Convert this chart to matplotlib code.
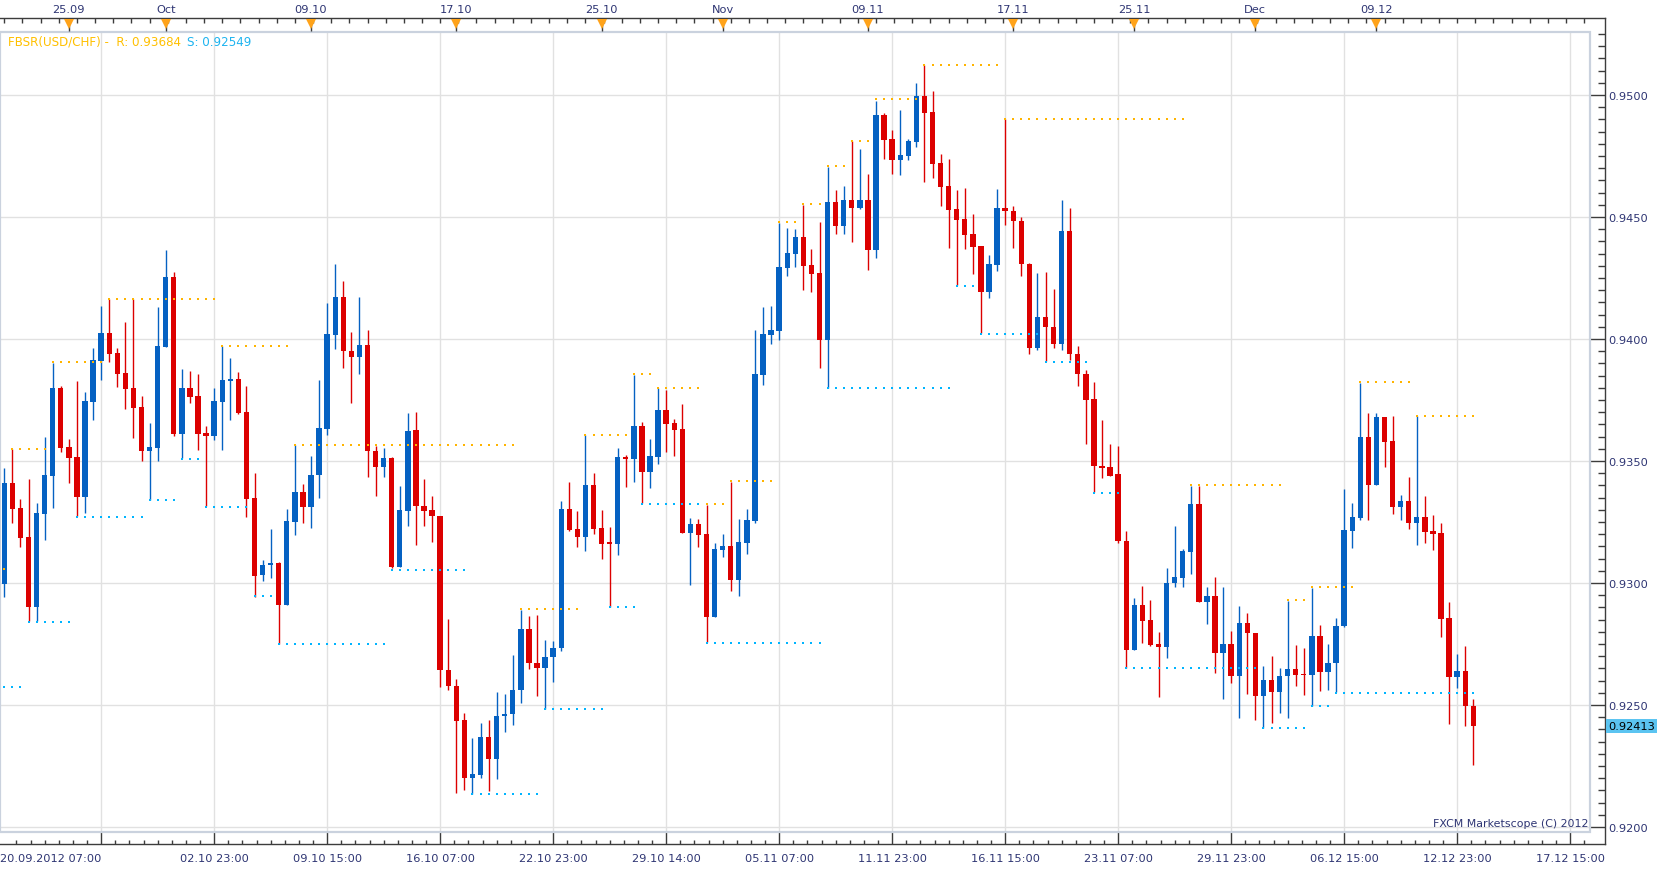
import numpy as np
import matplotlib
matplotlib.use("Agg")
import matplotlib.pyplot as plt
from matplotlib.ticker import FixedLocator, MultipleLocator, FormatStrFormatter
from matplotlib.transforms import blended_transform_factory
from matplotlib.patches import Rectangle

# ---------------- data (8h candles, USD/CHF) ----------------
opens = [0.92997, 0.93410, 0.93307, 0.93189, 0.92903, 0.93284, 0.93440, 0.93799, 0.93557, 0.93516,
         0.93354, 0.93742, 0.93910, 0.94025, 0.93943, 0.93861, 0.93799, 0.93721, 0.93541, 0.93553,
         0.93967, 0.94254, 0.93611, 0.93799, 0.93766, 0.93615, 0.93602, 0.93742, 0.93828, 0.93836,
         0.93701, 0.93348, 0.93032, 0.93073, 0.93083, 0.92908, 0.93252, 0.93371, 0.93310, 0.93441,
         0.93633, 0.94018, 0.94174, 0.93952, 0.93928, 0.93976, 0.93541, 0.93474, 0.93513, 0.93064,
         0.93297, 0.93625, 0.93317, 0.93300, 0.93276, 0.92645, 0.92579, 0.92439, 0.92199, 0.92212,
         0.92370, 0.92277, 0.92453, 0.92462, 0.92560, 0.92813, 0.92674, 0.92650, 0.92695, 0.92732,
         0.93305, 0.93223, 0.93190, 0.93403, 0.93227, 0.93167, 0.93158, 0.93518, 0.93510, 0.93645,
         0.93456, 0.93518, 0.93710, 0.93657, 0.93632, 0.93206, 0.93243, 0.93202, 0.92862, 0.93137,
         0.93153, 0.93014, 0.93165, 0.93255, 0.93853, 0.94018, 0.94034, 0.94289, 0.94347, 0.94417,
         0.94302, 0.94269, 0.93995, 0.94561, 0.94462, 0.94569, 0.94536, 0.94569, 0.94364, 0.94919,
         0.94820, 0.94734, 0.94750, 0.94808, 0.94997, 0.94931, 0.94722, 0.94627, 0.94532, 0.94491,
         0.94429, 0.94380, 0.94191, 0.94302, 0.94536, 0.94523, 0.94482, 0.94306, 0.93965, 0.94090,
         0.94049, 0.93981, 0.94443, 0.93938, 0.93857, 0.93754, 0.93481, 0.93476, 0.93445, 0.93173,
         0.92727, 0.92911, 0.92849, 0.92751, 0.92738, 0.92998, 0.93022, 0.93125, 0.93324, 0.92923,
         0.92947, 0.92715, 0.92751, 0.92617, 0.92836, 0.92796, 0.92536, 0.92604, 0.92552, 0.92618,
         0.92649, 0.92626, 0.92622, 0.92784, 0.92634, 0.92671, 0.92822, 0.93214, 0.93268, 0.93600,
         0.93403, 0.93682, 0.93583, 0.93313, 0.93337, 0.93247, 0.93272, 0.93214, 0.93206, 0.92858,
         0.92616, 0.92641, 0.92497]
highs = [0.93471, 0.93549, 0.93344, 0.93426, 0.93328, 0.93598, 0.93902, 0.93807, 0.93590, 0.93828,
         0.93783, 0.93963, 0.94135, 0.94164, 0.93963, 0.94070, 0.94164, 0.93766, 0.93656, 0.94131,
         0.94365, 0.94275, 0.93877, 0.93869, 0.93857, 0.93643, 0.93799, 0.93971, 0.93922, 0.93865,
         0.93807, 0.93451, 0.93095, 0.93222, 0.93085, 0.93304, 0.93564, 0.93406, 0.93522, 0.93833,
         0.94148, 0.94308, 0.94238, 0.94030, 0.94174, 0.94038, 0.93563, 0.93554, 0.93516, 0.93399,
         0.93698, 0.93702, 0.93427, 0.93358, 0.93276, 0.92854, 0.92606, 0.92469, 0.92363, 0.92428,
         0.92439, 0.92555, 0.92547, 0.92706, 0.92888, 0.92866, 0.92870, 0.92768, 0.92764, 0.93337,
         0.93415, 0.93296, 0.93605, 0.93452, 0.93301, 0.93231, 0.93555, 0.93526, 0.93854, 0.93661,
         0.93592, 0.93801, 0.93792, 0.93673, 0.93735, 0.93268, 0.93264, 0.93321, 0.93165, 0.93202,
         0.93415, 0.93264, 0.93305, 0.94036, 0.94133, 0.94137, 0.94475, 0.94454, 0.94450, 0.94549,
         0.94368, 0.94479, 0.94705, 0.94610, 0.94627, 0.94812, 0.94779, 0.94676, 0.94977, 0.94927,
         0.94857, 0.94940, 0.94820, 0.95051, 0.95121, 0.95018, 0.94759, 0.94738, 0.94610, 0.94619,
         0.94512, 0.94380, 0.94343, 0.94615, 0.94900, 0.94546, 0.94498, 0.94312, 0.94271, 0.94275,
         0.94204, 0.94570, 0.94538, 0.93971, 0.93873, 0.93824, 0.93669, 0.93571, 0.93563, 0.93213,
         0.92939, 0.92988, 0.92931, 0.92800, 0.93062, 0.93235, 0.93138, 0.93396, 0.93396, 0.92985,
         0.93026, 0.92982, 0.92804, 0.92907, 0.92879, 0.92796, 0.92661, 0.92702, 0.92653, 0.92928,
         0.92747, 0.92735, 0.92981, 0.92829, 0.92751, 0.92858, 0.93387, 0.93329, 0.93821, 0.93698,
         0.93698, 0.93682, 0.93686, 0.93362, 0.93436, 0.93684, 0.93358, 0.93280, 0.93247, 0.92924,
         0.92710, 0.92743, 0.92526]
lows = [0.92944, 0.93247, 0.93149, 0.92846, 0.92846, 0.93178, 0.93309, 0.93538, 0.93411, 0.93273,
        0.93287, 0.93668, 0.93832, 0.93906, 0.93803, 0.93713, 0.93594, 0.93500, 0.93340, 0.93500,
        0.93967, 0.93602, 0.93512, 0.93738, 0.93545, 0.93316, 0.93586, 0.93545, 0.93668, 0.93693,
        0.93272, 0.92944, 0.93007, 0.93022, 0.92751, 0.92908, 0.93196, 0.93246, 0.93224, 0.93347,
        0.93605, 0.93958, 0.93880, 0.93736, 0.93855, 0.93433, 0.93355, 0.93433, 0.93062, 0.93064,
        0.93232, 0.93155, 0.93232, 0.93169, 0.92575, 0.92561, 0.92141, 0.92151, 0.92137, 0.92201,
        0.92146, 0.92195, 0.92388, 0.92417, 0.92510, 0.92646, 0.92536, 0.92485, 0.92593, 0.92720,
        0.93214, 0.93149, 0.93133, 0.93202, 0.93100, 0.92900, 0.93116, 0.93395, 0.93415, 0.93329,
        0.93391, 0.93489, 0.93538, 0.93522, 0.93206, 0.92993, 0.93149, 0.92760, 0.92862, 0.93108,
        0.92969, 0.92948, 0.93120, 0.93247, 0.93812, 0.93981, 0.93997, 0.94257, 0.94294, 0.94199,
        0.94191, 0.93883, 0.93801, 0.94429, 0.94429, 0.94396, 0.94532, 0.94281, 0.94331, 0.94738,
        0.94676, 0.94672, 0.94734, 0.94787, 0.94643, 0.94660, 0.94545, 0.94372, 0.94220, 0.94368,
        0.94265, 0.94023, 0.94166, 0.94277, 0.94469, 0.94371, 0.94257, 0.93937, 0.93953, 0.93909,
        0.93963, 0.93955, 0.93914, 0.93809, 0.93568, 0.93375, 0.93429, 0.93437, 0.93163, 0.92653,
        0.92727, 0.92753, 0.92743, 0.92531, 0.92691, 0.92982, 0.92985, 0.93035, 0.92923, 0.92833,
        0.92631, 0.92523, 0.92591, 0.92448, 0.92546, 0.92437, 0.92404, 0.92425, 0.92466, 0.92445,
        0.92577, 0.92540, 0.92495, 0.92556, 0.92560, 0.92552, 0.92818, 0.93145, 0.93260, 0.93260,
        0.93403, 0.93477, 0.93284, 0.93260, 0.93223, 0.93157, 0.93165, 0.93137, 0.92780, 0.92422,
        0.92571, 0.92413, 0.92253]
closes = [0.93410, 0.93305, 0.93186, 0.92903, 0.93287, 0.93443, 0.93799, 0.93555, 0.93514, 0.93354,
          0.93746, 0.93914, 0.94025, 0.93939, 0.93857, 0.93795, 0.93717, 0.93541, 0.93557, 0.93971,
          0.94254, 0.93611, 0.93799, 0.93762, 0.93611, 0.93602, 0.93746, 0.93832, 0.93836, 0.93697,
          0.93346, 0.93030, 0.93074, 0.93083, 0.92908, 0.93255, 0.93371, 0.93310, 0.93444, 0.93636,
          0.94021, 0.94174, 0.93949, 0.93928, 0.93976, 0.93540, 0.93474, 0.93513, 0.93064, 0.93300,
          0.93625, 0.93314, 0.93297, 0.93273, 0.92642, 0.92576, 0.92436, 0.92199, 0.92216, 0.92370,
          0.92277, 0.92456, 0.92465, 0.92563, 0.92813, 0.92671, 0.92650, 0.92698, 0.92735, 0.93305,
          0.93219, 0.93190, 0.93403, 0.93223, 0.93161, 0.93158, 0.93518, 0.93510, 0.93645, 0.93456,
          0.93522, 0.93710, 0.93653, 0.93628, 0.93206, 0.93243, 0.93198, 0.92862, 0.93141, 0.93153,
          0.93014, 0.93169, 0.93260, 0.93858, 0.94022, 0.94038, 0.94294, 0.94351, 0.94417, 0.94298,
          0.94265, 0.93995, 0.94561, 0.94462, 0.94569, 0.94536, 0.94569, 0.94364, 0.94919, 0.94816,
          0.94734, 0.94754, 0.94812, 0.94997, 0.94927, 0.94717, 0.94623, 0.94528, 0.94487, 0.94425,
          0.94376, 0.94191, 0.94306, 0.94536, 0.94524, 0.94482, 0.94306, 0.93965, 0.94090, 0.94048,
          0.93981, 0.94443, 0.93937, 0.93855, 0.93752, 0.93478, 0.93471, 0.93440, 0.93171, 0.92727,
          0.92911, 0.92844, 0.92747, 0.92738, 0.93001, 0.93026, 0.93130, 0.93324, 0.92923, 0.92947,
          0.92715, 0.92751, 0.92617, 0.92836, 0.92794, 0.92536, 0.92604, 0.92552, 0.92620, 0.92649,
          0.92622, 0.92622, 0.92784, 0.92634, 0.92674, 0.92825, 0.93219, 0.93272, 0.93600, 0.93403,
          0.93682, 0.93579, 0.93313, 0.93337, 0.93247, 0.93272, 0.93210, 0.93202, 0.92854, 0.92616,
          0.92641, 0.92495, 0.92413]

# FBSR resistance / support segments (candle index range and level)
res_start = [0, 1, 6, 13, 27, 36, 64, 72, 78, 81, 87, 90, 96, 99, 102, 105, 108, 114, 124, 147, 159, 162, 168, 175]
res_end = [0, 5, 12, 26, 35, 63, 71, 77, 80, 86, 89, 95, 98, 101, 104, 107, 113, 123, 146, 158, 161, 167, 174, 182]
res_level = [0.93059, 0.93549, 0.93907, 0.94164, 0.93973, 0.93567, 0.92892, 0.93608, 0.93855, 0.93801,
             0.93322, 0.93417, 0.94480, 0.94554, 0.94711, 0.94813, 0.94982, 0.95122, 0.94902, 0.93400,
             0.92929, 0.92985, 0.93822, 0.93684]
sup_start = [0, 3, 9, 18, 22, 25, 31, 34, 48, 58, 67, 75, 79, 87, 102, 118, 121, 129, 135, 139, 156, 162, 165]
sup_end = [2, 8, 17, 21, 24, 30, 33, 47, 57, 66, 74, 78, 86, 101, 117, 120, 128, 134, 138, 155, 161, 164, 182]
sup_level = [0.92574, 0.92842, 0.93272, 0.93342, 0.93510, 0.93313, 0.92946, 0.92748, 0.93055, 0.92137,
             0.92485, 0.92900, 0.93325, 0.92755, 0.93801, 0.94217, 0.94022, 0.93907, 0.93370, 0.92650,
             0.92404, 0.92495, 0.92549]

r_value = 0.93684
s_value = 0.92549
indicator_name = "FBSR(USD/CHF)"
copyright_text = "FXCM Marketscope (C) 2012"

first_label = "20.09.2012 07:00"
bottom_idx = [12, 26, 40, 54, 68, 82, 96, 110, 124, 138, 152, 166, 180, 194]
bottom_lbl = ["", "02.10 23:00", "09.10 15:00", "16.10 07:00", "22.10 23:00", "29.10 14:00",
              "05.11 07:00", "11.11 23:00", "16.11 15:00", "23.11 07:00", "29.11 23:00",
              "06.12 15:00", "12.12 23:00", "17.12 15:00"]
top_idx = [8, 20, 38, 56, 74, 89, 107, 125, 140, 155, 170]
top_lbl = ["25.09", "Oct", "09.10", "17.10", "25.10", "Nov", "09.11", "17.11", "25.11", "Dec", "09.12"]
price_ticks = [0.9200, 0.9250, 0.9300, 0.9350, 0.9400, 0.9450, 0.9500]

# ---------------- style ----------------
BLUE = "#0561C2"
RED = "#DC0000"
ORANGE_DOT = "#FFB400"
CYAN_DOT = "#00B4FF"
LEG_OR = "#FFC000"
LEG_CY = "#1EB4F0"
TRI = "#FFA31A"
NAVY = "#2E3573"
GRID = "#E1E1E1"
FRAME = "#CAD2DE"
AXIS = "#3C3C3C"
FS = 8.2
PT = 0.72  # points per pixel at 100 dpi
plt.rcParams["font.family"] = ["DejaVu Sans"]

W, H = 1663, 870
L, T, R, B = 0, 33, 1590, 833
fig = plt.figure(figsize=(W / 100, H / 100), dpi=100)
fig.patch.set_facecolor("white")
ax = fig.add_axes([L / W, 1 - B / H, (R - L) / W, (B - T) / H])

STEP = 8.0714
X0 = 4.3
xlim = ((L - X0) / STEP, (R - X0) / STEP)
ymax = 0.94 + (340 - T) / 122 * 0.005
ymin = 0.94 - (B - 340) / 122 * 0.005
ax.set_xlim(*xlim)
ax.set_ylim(ymin, ymax)


def px_to_x(px):
    return (px - X0) / STEP


def py_to_price(py):
    return ymax - (py - T) / (B - T) * (ymax - ymin)


# ---------------- candles ----------------
o = np.array(opens)
c = np.array(closes)
h = np.array(highs)
lo = np.array(lows)
x = np.arange(len(o))
cols = np.where(c >= o, BLUE, RED)
ax.vlines(x, lo, h, colors=cols, lw=1.0, zorder=3)
bh = np.maximum(np.abs(c - o), 0.00006)
mid = (o + c) / 2
ax.bar(x, bh, bottom=mid - bh / 2, width=0.66, color=cols, lw=0, zorder=4)

# ---------------- FBSR dots ----------------
for s, e, p in zip(res_start, res_end, res_level):
    xi = np.arange(s, e + 1)
    ax.plot(xi, np.full(len(xi), p), ls="none", marker="s", ms=1.7, mew=0,
            color=ORANGE_DOT, zorder=5)
for s, e, p in zip(sup_start, sup_end, sup_level):
    xi = np.arange(s, e + 1)
    ax.plot(xi, np.full(len(xi), p), ls="none", marker="s", ms=1.7, mew=0,
            color=CYAN_DOT, zorder=5)

# ---------------- grid & frame ----------------
ax.set_xticks(bottom_idx, bottom_lbl)
ax.set_yticks(price_ticks)
ax.yaxis.set_major_formatter(FormatStrFormatter("%.4f"))
ax.yaxis.set_minor_locator(MultipleLocator(0.0005))
ax.xaxis.set_minor_locator(FixedLocator(np.arange(12 - 1.75 * 6, 197, 1.75)))
ax.grid(True, which="major", color=GRID, lw=1.0, zorder=0)
ax.set_axisbelow(True)

ax.add_patch(Rectangle((0, 0), 1, 1, transform=ax.transAxes, fill=False,
                       ec=FRAME, lw=1.6, zorder=6, clip_on=False))

BOT_OUT, TOP_OUT, RIGHT_OUT = 12, 14, 15   # pixels
ax.spines["left"].set_visible(False)
ax.spines["top"].set_visible(False)
ax.spines["right"].set_position(("outward", RIGHT_OUT * PT))
ax.spines["bottom"].set_position(("outward", BOT_OUT * PT))
for sp in ("right", "bottom"):
    ax.spines[sp].set_color(AXIS)
    ax.spines[sp].set_linewidth(1.0)
ax.spines["right"].set_bounds(py_to_price(B + BOT_OUT), py_to_price(T - TOP_OUT))
ax.spines["bottom"].set_bounds(xlim[0], px_to_x(R + RIGHT_OUT))

ax.yaxis.tick_right()
ax.tick_params(axis="y", which="major", direction="in", length=RIGHT_OUT * PT, width=1, color=AXIS,
               labelsize=FS, labelcolor=NAVY, pad=3 * PT, left=False)
ax.tick_params(axis="y", which="minor", direction="in", length=7 * PT, width=1, color=AXIS, left=False)
ax.tick_params(axis="x", which="major", direction="in", length=BOT_OUT * PT, width=1, color=AXIS,
               labelsize=FS, labelcolor=NAVY, pad=6.8, top=False)
ax.tick_params(axis="x", which="minor", direction="in", length=4 * PT, width=1, color=AXIS, top=False)

# first (left-aligned) time label
ax.annotate(first_label, xy=(0, 0), xycoords="axes fraction",
            xytext=(0, -(BOT_OUT * PT + 6.8)), textcoords="offset points",
            ha="left", va="top", color=NAVY, fontsize=FS, annotation_clip=False)

# ---------------- top date axis ----------------
ax2 = ax.twiny()
ax2.set_xlim(*xlim)
ax2.set_xticks(top_idx, top_lbl)
ax2.xaxis.set_minor_locator(MultipleLocator(2.25))
for sp in ("left", "right", "bottom"):
    ax2.spines[sp].set_visible(False)
ax2.spines["top"].set_position(("outward", TOP_OUT * PT))
ax2.spines["top"].set_color(AXIS)
ax2.spines["top"].set_linewidth(1.0)
ax2.spines["top"].set_bounds(xlim[0], px_to_x(R + RIGHT_OUT))
ax2.tick_params(axis="x", which="major", direction="in", length=13 * PT, width=1, color=AXIS,
                labelsize=FS, labelcolor=NAVY, pad=3.2)
ax2.tick_params(axis="x", which="minor", direction="in", length=5 * PT, width=1, color=AXIS)
tri_y = 1 + (T - 25) / (B - T)
ax2.plot(top_idx, [tri_y] * len(top_idx), ls="none", marker="v", ms=7.5, mew=0, color=TRI,
         transform=blended_transform_factory(ax2.transData, ax2.transAxes),
         clip_on=False, zorder=10)

# ---------------- texts ----------------
t1 = ax.text(8 / (R - L), 1 - 9 / (B - T), f"{indicator_name} -  R: {r_value:.5f}",
             transform=ax.transAxes, color=LEG_OR, fontsize=8.6, va="center", ha="left", zorder=8)
ax.annotate(f"S: {s_value:.5f}", xy=(1, 0.5), xycoords=t1, xytext=(4, 0),
            textcoords="offset points", va="center", ha="left", color=LEG_CY, fontsize=8.6, zorder=8)

ax.text(0.999, (B - 824) / (B - T), copyright_text, transform=ax.transAxes,
        ha="right", va="center", color=NAVY, fontsize=7.9, zorder=8)

ax.text(1 + 18 / (R - L), closes[-1], f"{closes[-1]:.5f}",
        transform=blended_transform_factory(ax.transAxes, ax.transData),
        ha="left", va="center", color="black", fontsize=FS, clip_on=False,
        bbox=dict(boxstyle="square,pad=0.18", fc="#5BC4F1", ec="none"), zorder=9)

fig.savefig("out.png", dpi=100, facecolor="white")
